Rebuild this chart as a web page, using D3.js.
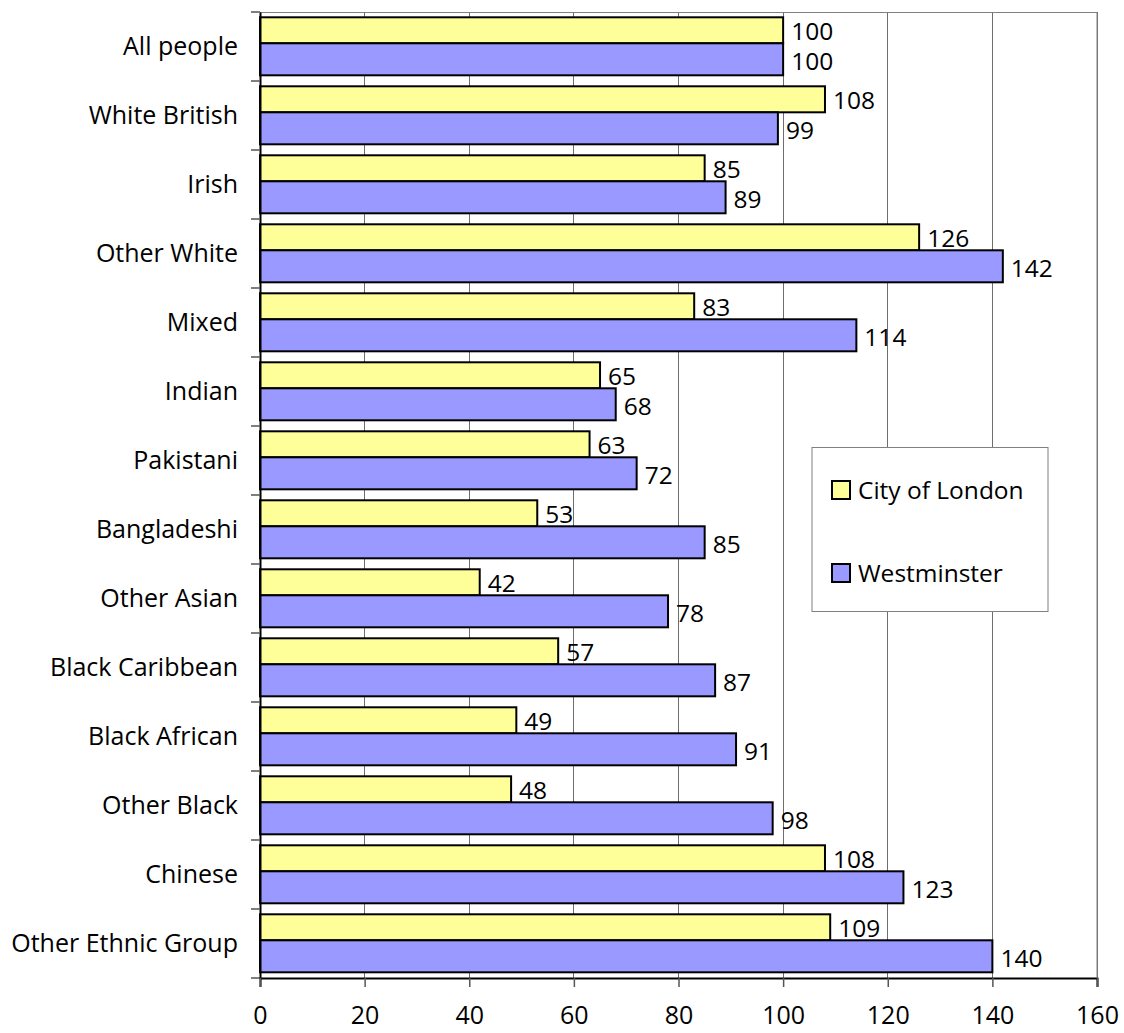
<!DOCTYPE html>
<html><head><meta charset="utf-8">
<script src="https://cdn.jsdelivr.net/npm/d3@7"></script>
<style>body{margin:0;background:#fff}svg{display:block}text{font-family:"Open Sans","Noto Sans",sans-serif;fill:#000}</style>
</head><body>
<script>
const categories = ["All people","White British","Irish","Other White","Mixed","Indian","Pakistani","Bangladeshi","Other Asian","Black Caribbean","Black African","Other Black","Chinese","Other Ethnic Group"];
const cityOfLondon = [100,108,85,126,83,65,63,53,42,57,49,48,108,109];
const westminster = [100,99,89,142,114,68,72,85,78,87,91,98,123,140];
const seriesNames = ["City of London","Westminster"];
const seriesColors = ["#FFFF99","#9999FF"];
const xTicks = [0,20,40,60,80,100,120,140,160];

const W = 1124, H = 1033;
const m = {left:260, right:1097, top:12, bottom:978};
const svg = d3.select("body").append("svg").attr("width",W).attr("height",H);
const x = d3.scaleLinear().domain([0,160]).range([m.left,m.right]);
const y = d3.scaleBand().domain(categories).range([m.top,m.bottom]);
const bw = y.bandwidth();
const FF = '"Open Sans","Noto Sans",sans-serif';

// gridlines
svg.append("g").selectAll("line").data(xTicks.slice(1)).join("line")
  .attr("x1",d=>x(d)).attr("x2",d=>x(d)).attr("y1",m.top).attr("y2",m.bottom)
  .attr("stroke","#6e6e6e").attr("stroke-width",1).attr("shape-rendering","crispEdges");
svg.append("line").attr("x1",m.left).attr("x2",m.right).attr("y1",m.top+0.5).attr("y2",m.top+0.5)
  .attr("stroke","#808080");

const yTop = 5.3, yH = 26, bH = 32;
const gb = svg.append("g");
categories.forEach((c,i)=>{
  const y0 = y(c);
  gb.append("rect").attr("x",x(0)).attr("y",y0+yTop).attr("width",x(cityOfLondon[i])-x(0)).attr("height",yH)
    .attr("fill",seriesColors[0]).attr("stroke","#000").attr("stroke-width",2);
  gb.append("rect").attr("x",x(0)).attr("y",y0+yTop+yH).attr("width",x(westminster[i])-x(0)).attr("height",bH)
    .attr("fill",seriesColors[1]).attr("stroke","#000").attr("stroke-width",2);
  gb.append("text").attr("x",x(cityOfLondon[i])+8).attr("y",y0+yTop+yH/2+1).attr("dy","0.35em")
    .attr("font-size",24.5).text(cityOfLondon[i]);
  gb.append("text").attr("x",x(westminster[i])+8).attr("y",y0+yTop+yH+bH/2+2).attr("dy","0.35em")
    .attr("font-size",24.5).text(westminster[i]);
});

// y axis
const yAxis = svg.append("g").attr("transform",`translate(${m.left},0)`)
  .call(d3.axisLeft(y).tickSize(0).tickPadding(22));
yAxis.select(".domain").attr("stroke","#000").attr("stroke-width",2);
yAxis.selectAll("text").attr("font-size",25).style("font-family",FF);
// category boundary ticks
svg.append("g").selectAll("line").data(categories.concat(["__end"])).join("line")
  .attr("x1",m.left-9).attr("x2",m.left)
  .attr("y1",(d,i)=>m.top+i*bw).attr("y2",(d,i)=>m.top+i*bw)
  .attr("stroke","#555").attr("stroke-width",1.5);

// x axis
const xAxis = svg.append("g").attr("transform",`translate(0,${m.bottom})`)
  .call(d3.axisBottom(x).tickValues(xTicks).tickSize(9).tickPadding(19));
xAxis.select(".domain").attr("stroke","#000").attr("stroke-width",2);
xAxis.selectAll(".tick line").attr("stroke","#555").attr("stroke-width",1.5);
xAxis.selectAll("text").attr("font-size",25).style("font-family",FF);

// right border
svg.append("line").attr("x1",m.right).attr("x2",m.right).attr("y1",m.top).attr("y2",m.bottom).attr("stroke","#808080");

// legend
const lg = svg.append("g");
lg.append("rect").attr("x",812).attr("y",447.5).attr("width",236).attr("height",164)
  .attr("fill","#fff").attr("stroke","#808080");
seriesNames.forEach((s,i)=>{
  const yy = 481 + i*83;
  lg.append("rect").attr("x",832).attr("y",yy).attr("width",18).attr("height",18)
    .attr("fill",seriesColors[i]).attr("stroke","#000").attr("stroke-width",2);
  lg.append("text").attr("x",858).attr("y",yy+9).attr("dy","0.35em").attr("font-size",24.5).text(s);
});
</script>
</body></html>
